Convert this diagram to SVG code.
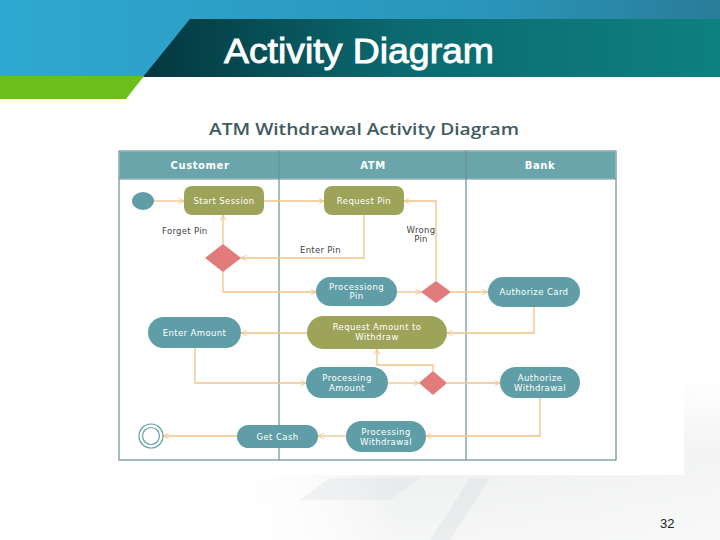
<svg xmlns="http://www.w3.org/2000/svg" width="720" height="540" viewBox="0 0 720 540">
<defs>
<linearGradient id="topband" x1="0" y1="0" x2="1" y2="0">
<stop offset="0" stop-color="#2ea8d2"/>
<stop offset="0.7" stop-color="#2a94b8"/>
<stop offset="1" stop-color="#2a7c98"/>
</linearGradient>
<linearGradient id="banner" x1="0" y1="0" x2="1" y2="0">
<stop offset="0" stop-color="#04363e"/>
<stop offset="0.45" stop-color="#0b6a70"/>
<stop offset="1" stop-color="#0e8080"/>
</linearGradient>
<linearGradient id="foot" x1="0" y1="0" x2="1" y2="0">
<stop offset="0" stop-color="#ffffff" stop-opacity="0"/>
<stop offset="0.3" stop-color="#ffffff" stop-opacity="0"/>
<stop offset="0.55" stop-color="#e6e8e9"/>
<stop offset="1" stop-color="#eeeff0"/>
</linearGradient>
<linearGradient id="footv" x1="0" y1="0" x2="0" y2="1">
<stop offset="0" stop-color="#ffffff" stop-opacity="1"/>
<stop offset="0.45" stop-color="#ffffff" stop-opacity="0.3"/>
<stop offset="1" stop-color="#ffffff" stop-opacity="0.6"/>
</linearGradient>
<marker id="arr" viewBox="0 0 10 10" refX="9" refY="5" markerWidth="7" markerHeight="7" orient="auto" markerUnits="userSpaceOnUse">
<path d="M1,1 L9,5 L1,9" fill="none" stroke="#f0c38a" stroke-width="1.3"/>
</marker>
<style>
.lane{fill:#ffffff;stroke:#6a8e94;stroke-width:1.2}
.hdr{fill:#6aa5ab}
.hdrt{font-family:"DejaVu Sans","Liberation Sans",sans-serif;font-size:10px;font-weight:bold;fill:#ffffff;text-anchor:middle;letter-spacing:0.6px}
.teal{fill:#5f9ea6}
.olive{fill:#9ea35a}
.dia{fill:#e27b7b}
.nt{font-family:"DejaVu Sans","Liberation Sans",sans-serif;font-size:8.5px;fill:#ffffff;text-anchor:middle;letter-spacing:0.4px}
.lbl{font-family:"DejaVu Sans","Liberation Sans",sans-serif;font-size:8.5px;fill:#444444;letter-spacing:0.3px}
.c{fill:none;stroke:#f0c38a;stroke-width:1.3;marker-end:url(#arr)}
</style>
</defs>
<rect x="0" y="0" width="720" height="540" fill="#ffffff"/>
<rect x="0" y="380" width="720" height="160" fill="url(#foot)"/>
<rect x="0" y="380" width="720" height="160" fill="url(#footv)"/>
<path d="M300,500 L330,478 L420,478 L390,500 Z" fill="#d8dbdd" opacity="0.3"/>
<path d="M430,540 L470,478 L490,478 L450,540 Z" fill="#d5d8da" opacity="0.3"/>
<!-- header -->
<rect x="0" y="0" width="720" height="77" fill="url(#topband)"/>
<polygon points="190,19 720,19 720,77 143,77" fill="url(#banner)"/>
<polygon points="0,76 144,76 126,99 0,99" fill="#6cbf1a"/>
<text x="224" y="63" font-family="Liberation Sans, Arial, sans-serif" font-size="35" fill="#ffffff" stroke="#ffffff" stroke-width="0.9" textLength="270" lengthAdjust="spacingAndGlyphs">Activity Diagram</text>
<!-- diagram panel -->
<rect x="108" y="100" width="576" height="375" fill="#ffffff"/>
<text x="209" y="135" font-family="Open Sans, DejaVu Sans, sans-serif" font-size="15.5" font-weight="600" fill="#3f5b60" textLength="310" lengthAdjust="spacingAndGlyphs">ATM Withdrawal Activity Diagram</text>
<g id="lanes">
<rect class="lane" x="119" y="151" width="497" height="309"/>
<rect class="hdr" x="119.6" y="151.6" width="495.8" height="27"/>
<line x1="279" y1="151" x2="279" y2="460" stroke="#6a8e94" stroke-width="1.2"/>
<line x1="466" y1="151" x2="466" y2="460" stroke="#6a8e94" stroke-width="1.2"/>
<line x1="119" y1="179" x2="616" y2="179" stroke="#6a8e94" stroke-width="1"/>
<text class="hdrt" x="200" y="169">Customer</text>
<text class="hdrt" x="373" y="169">ATM</text>
<text class="hdrt" x="540" y="169">Bank</text>
</g>
<g id="connectors">
<path class="c" d="M154,201 L184,201"/>
<path class="c" d="M264,201 L324,201"/>
<path class="c" d="M364,215 L364,258 L241,258"/>
<path class="c" d="M223,244 L223,215"/>
<path class="c" d="M223,272 L223,292 L316,292"/>
<path class="c" d="M397,292 L421,292"/>
<path class="c" d="M436,281 L436,201 L404,201"/>
<path class="c" d="M451,292 L488,292"/>
<path class="c" d="M534,307 L534,333 L447,333"/>
<path class="c" d="M307,333 L241,333"/>
<path class="c" d="M195,348 L195,383 L306,383"/>
<path class="c" d="M388,383 L419,383"/>
<path class="c" d="M433,371 L433,365 L377,365 L377,349"/>
<path class="c" d="M447,383 L500,383"/>
<path class="c" d="M540,398 L540,436 L426,436"/>
<path class="c" d="M346,436 L318,436"/>
<path class="c" d="M237,436 L163,436"/>
<text class="lbl" x="162" y="234">Forget Pin</text>
<text class="lbl" x="300" y="253">Enter Pin</text>
<text class="lbl" x="421" y="233" text-anchor="middle">Wrong</text>
<text class="lbl" x="421" y="242" text-anchor="middle">Pin</text>
</g>
<g id="start"><ellipse class="teal" cx="143" cy="201" rx="11" ry="9"/></g>
<g id="start-session"><rect class="olive" x="184" y="186" width="80" height="29" rx="8"/><text class="nt" x="224" y="204">Start Session</text></g>
<g id="request-pin"><rect class="olive" x="324" y="186" width="80" height="29" rx="8"/><text class="nt" x="364" y="204">Request Pin</text></g>
<g id="decision-pin"><polygon class="dia" points="223,244 241,258 223,272 205,258"/></g>
<g id="processing-pin"><rect class="teal" x="316" y="277" width="81" height="29" rx="14.5"/><text class="nt" x="356.5" y="290">Processiong</text><text class="nt" x="356.5" y="299">Pin</text></g>
<g id="decision-card"><polygon class="dia" points="436,281 451,292 436,303 421,292"/></g>
<g id="authorize-card"><rect class="teal" x="488" y="277" width="92" height="30" rx="15"/><text class="nt" x="534" y="295">Authorize Card</text></g>
<g id="enter-amount"><rect class="teal" x="148" y="317" width="93" height="31" rx="15.5"/><text class="nt" x="194.5" y="336">Enter Amount</text></g>
<g id="request-amount"><rect class="olive" x="307" y="316" width="140" height="33" rx="16.5"/><text class="nt" x="377" y="330">Request Amount to</text><text class="nt" x="377" y="340">Withdraw</text></g>
<g id="processing-amount"><rect class="teal" x="306" y="367" width="82" height="31" rx="15.5"/><text class="nt" x="347" y="381">Processing</text><text class="nt" x="347" y="391">Amount</text></g>
<g id="decision-amount"><polygon class="dia" points="433,371 447,383 433,395 419,383"/></g>
<g id="authorize-withdrawal"><rect class="teal" x="500" y="367" width="80" height="31" rx="15.5"/><text class="nt" x="540" y="381">Authorize</text><text class="nt" x="540" y="391">Withdrawal</text></g>
<g id="processing-withdrawal"><rect class="teal" x="346" y="421" width="80" height="31" rx="15.5"/><text class="nt" x="386" y="435">Processing</text><text class="nt" x="386" y="445">Withdrawal</text></g>
<g id="get-cash"><rect class="teal" x="237" y="425" width="81" height="23" rx="11.5"/><text class="nt" x="277.5" y="440">Get Cash</text></g>
<g id="end"><circle cx="151" cy="436" r="12" fill="#ffffff" stroke="#5f9ea6" stroke-width="1.2"/><circle cx="151" cy="436" r="8.5" fill="#ffffff" stroke="#5f9ea6" stroke-width="1.2"/></g>
<text x="660" y="528" font-family="Liberation Sans, Arial, sans-serif" font-size="13" fill="#222222">32</text>
</svg>
